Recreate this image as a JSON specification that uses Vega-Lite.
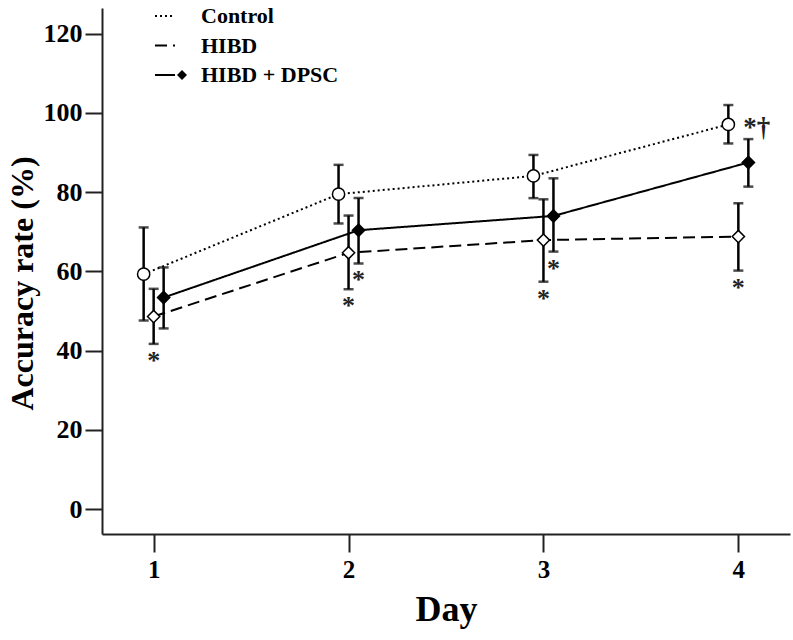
{
  "$schema": "https://vega.github.io/schema/vega-lite/v6.json",
  "width": 688,
  "height": 526,
  "autosize": {"type": "none"},
  "padding": {"left": 102, "top": 8, "right": 3, "bottom": 106},
  "background": "white",
  "config": {
    "view": {"stroke": null},
    "axis": {
      "grid": false,
      "labelFont": "Liberation Serif",
      "titleFont": "Liberation Serif",
      "labelFontWeight": "bold",
      "titleFontWeight": "bold",
      "labelColor": "#000",
      "titleColor": "#000",
      "domainColor": "#222",
      "tickColor": "#222",
      "domainWidth": 2,
      "tickWidth": 2
    }
  },
  "data": {
    "values": [
      {"day": 1, "group": "Control", "mean": 59.3, "lo": 47.6, "hi": 71.1},
      {"day": 2, "group": "Control", "mean": 79.5, "lo": 72.1, "hi": 86.9},
      {"day": 3, "group": "Control", "mean": 84.1, "lo": 78.5, "hi": 89.4},
      {"day": 4, "group": "Control", "mean": 97.1, "lo": 92.3, "hi": 102.0, "side": "*†"},
      {"day": 1, "group": "HIBD", "mean": 48.6, "lo": 41.7, "hi": 55.6, "sig": "*"},
      {"day": 2, "group": "HIBD", "mean": 64.7, "lo": 55.5, "hi": 74.1, "sig": "*"},
      {"day": 3, "group": "HIBD", "mean": 67.9, "lo": 57.4, "hi": 78.2, "sig": "*"},
      {"day": 4, "group": "HIBD", "mean": 68.8, "lo": 60.2, "hi": 77.2, "sig": "*"},
      {"day": 1, "group": "HIBD + DPSC", "mean": 53.4, "lo": 45.6, "hi": 61.0},
      {"day": 2, "group": "HIBD + DPSC", "mean": 70.4, "lo": 62.0, "hi": 78.5, "sig": "*"},
      {"day": 3, "group": "HIBD + DPSC", "mean": 74.0, "lo": 65.0, "hi": 83.5, "sig": "*"},
      {"day": 4, "group": "HIBD + DPSC", "mean": 87.5, "lo": 81.4, "hi": 93.4}
    ]
  },
  "encoding": {
    "x": {
      "field": "day",
      "type": "ordinal",
      "scale": {"type": "point", "padding": 0.265},
      "axis": {
        "title": "Day",
        "labelAngle": 0,
        "labelFontSize": 25,
        "titleFontSize": 36,
        "tickSize": 18,
        "labelPadding": 5,
        "titlePadding": 10
      }
    },
    "xOffset": {
      "field": "group",
      "type": "nominal",
      "scale": {"type": "point", "domain": ["Control", "HIBD", "HIBD + DPSC"], "range": [-10, 10], "padding": 0}
    }
  },
  "layer": [
    {
      "mark": {"type": "rule", "color": "black", "strokeWidth": 2.5},
      "encoding": {
        "y": {
          "field": "lo",
          "type": "quantitative",
          "scale": {"domain": [-6.3, 126.5], "nice": false, "zero": false},
          "axis": {
            "title": "Accuracy rate (%)",
            "values": [0, 20, 40, 60, 80, 100, 120],
            "labelFontSize": 26,
            "titleFontSize": 32,
            "tickSize": 17,
            "labelPadding": 3,
            "titlePadding": 4,
            "titleY": 275
          }
        },
        "y2": {"field": "hi"}
      }
    },
    {
      "mark": {"type": "tick", "color": "black", "size": 10, "thickness": 2.5, "orient": "horizontal"},
      "encoding": {"y": {"field": "lo", "type": "quantitative"}}
    },
    {
      "mark": {"type": "tick", "color": "black", "size": 10, "thickness": 2.5, "orient": "horizontal"},
      "encoding": {"y": {"field": "hi", "type": "quantitative"}}
    },
    {
      "mark": {"type": "line", "color": "black", "strokeWidth": 2},
      "encoding": {
        "y": {"field": "mean", "type": "quantitative"},
        "strokeDash": {
          "field": "group",
          "type": "nominal",
          "scale": {"range": [[2, 3], [12, 6], [1, 0]]},
          "legend": {
            "title": null,
            "orient": "none",
            "legendX": 52,
            "legendY": -3,
            "padding": 0,
            "symbolType": "stroke",
            "symbolSize": 400,
            "symbolOffset": 0,
            "symbolStrokeColor": "black",
            "symbolStrokeWidth": 2,
            "labelFont": "Liberation Serif",
            "labelFontSize": 22,
            "labelFontWeight": "bold",
            "labelExpr": "''",
            "labelOffset": 0,
            "rowPadding": 7.5
          }
        }
      }
    },
    {
      "mark": {"type": "point", "filled": true, "stroke": "black", "strokeWidth": 1.5, "size": 150, "opacity": 1},
      "encoding": {
        "y": {"field": "mean", "type": "quantitative"},
        "shape": {
          "field": "group",
          "type": "nominal",
          "scale": {"domain": ["Control", "HIBD", "HIBD + DPSC"], "range": ["circle", "diamond", "diamond"]},
          "legend": {
            "title": null,
            "orient": "none",
            "legendX": 69,
            "legendY": -3,
            "padding": 0,
            "symbolOffset": 0,
            "symbolStrokeColor": "black",
            "symbolStrokeWidth": 1.5,
            "labelFont": "Liberation Serif",
            "labelFontSize": 22,
            "labelFontWeight": "bold",
            "labelColor": "black",
            "labelOffset": 8,
            "rowPadding": 7.5,
            "encode": {
              "symbols": {
                "stroke": {"value": "black"},
                "strokeWidth": {"value": 1.5}
              }
            }
          }
        },
        "fill": {
          "field": "group",
          "type": "nominal",
          "scale": {"domain": ["Control", "HIBD", "HIBD + DPSC"], "range": ["white", "white", "black"]},
          "legend": {
            "title": null,
            "orient": "none",
            "legendX": 69,
            "legendY": -3,
            "padding": 0,
            "symbolOffset": 0,
            "symbolStrokeColor": "black",
            "symbolStrokeWidth": 1.5,
            "labelFont": "Liberation Serif",
            "labelFontSize": 22,
            "labelFontWeight": "bold",
            "labelColor": "black",
            "labelOffset": 8,
            "rowPadding": 7.5,
            "encode": {
              "symbols": {
                "stroke": {"value": "black"},
                "strokeWidth": {"value": 1.5}
              }
            }
          }
        }
      }
    },
    {
      "transform": [{"filter": "datum.sig"}],
      "mark": {"type": "text", "font": "Liberation Serif", "fontSize": 26, "fontWeight": "bold", "color": "#222", "dy": 25, "baseline": "alphabetic", "align": "center"},
      "encoding": {
        "y": {"field": "lo", "type": "quantitative"},
        "text": {"field": "sig"}
      }
    },
    {
      "transform": [{"filter": "datum.side"}],
      "mark": {"type": "text", "font": "Liberation Serif", "fontSize": 27, "fontWeight": "bold", "color": "#222", "dx": 15, "dy": 12, "baseline": "alphabetic", "align": "left"},
      "encoding": {
        "y": {"field": "mean", "type": "quantitative"},
        "text": {"field": "side"}
      }
    }
  ]
}
